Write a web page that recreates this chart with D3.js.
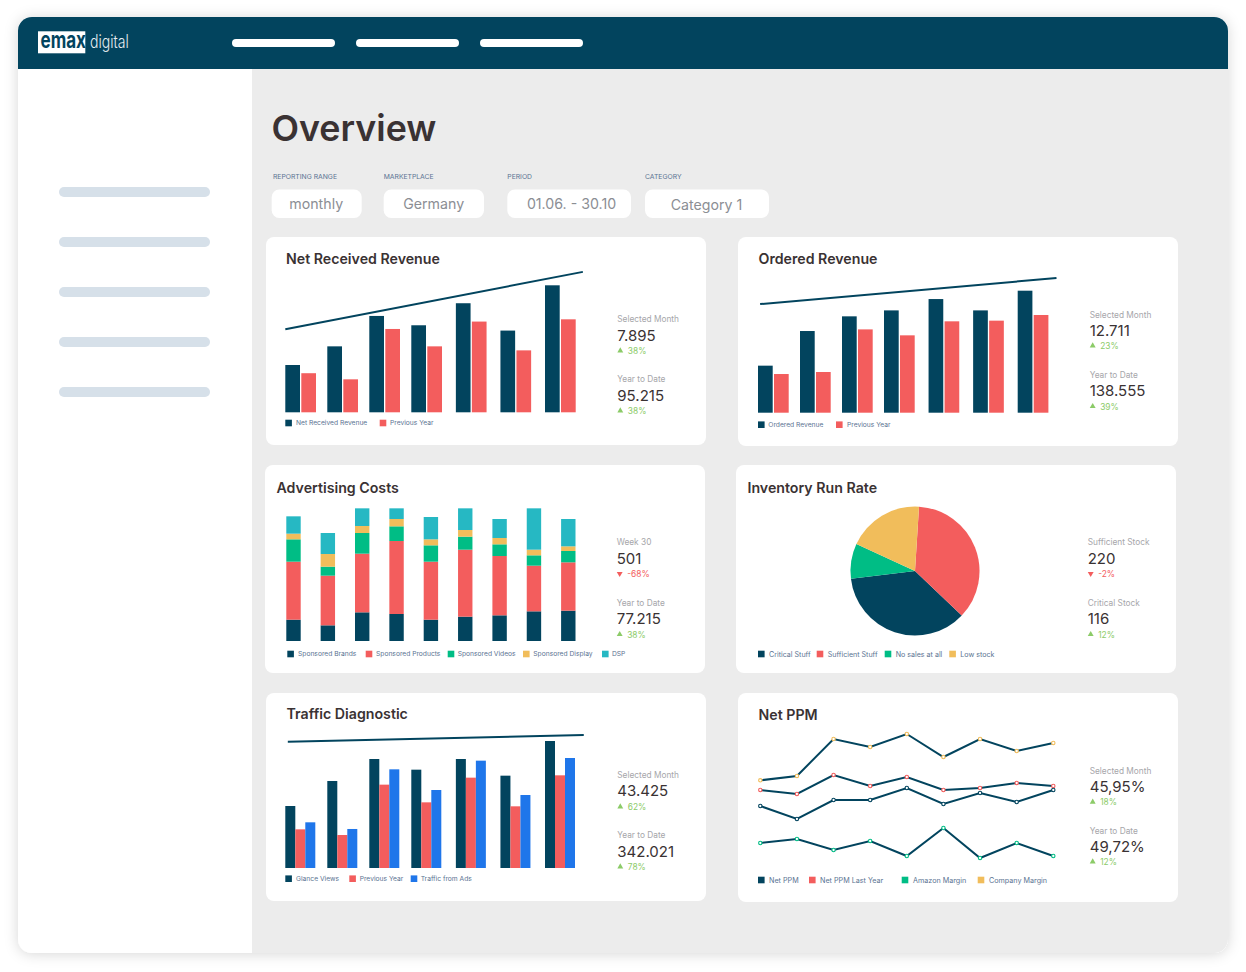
<!DOCTYPE html>
<html><head><meta charset="utf-8">
<script src="https://cdn.jsdelivr.net/npm/d3@7/dist/d3.min.js"></script>
<style>html,body{margin:0;padding:0;background:#fff}svg{display:block}text{font-family:Inter,"Noto Sans",sans-serif}</style>
</head><body><svg id="c" width="1246" height="972"></svg>
<script>
// ---- data ----
const months = [0,1,2,3,4,5,6];
const netRevenue = [2.94,4.10,5.99,5.41,6.78,5.08,7.895];
const netRevenuePrev = [2.43,2.05,5.18,4.10,5.64,3.85,5.78];
const netRevenueTrend = [5.16,8.73];
const orderedRevenue = [4.90,8.51,10.04,10.66,11.84,10.66,12.711];
const orderedRevenuePrev = [4.03,4.24,8.68,8.06,9.52,9.59,10.18];
const orderedTrend = [11.32,14.03];
const glanceViews = [21.2,29.75,37.27,33.62,37.27,31.57,43.425];
const glancePrev = [13.22,11.28,28.5,22.45,30.89,21.09,31.69];
const trafficAds = [15.62,13.34,33.74,26.67,36.7,24.96,37.61];
const trafficTrend = [43.2,45.48];
const weeks = ["W1","W2","W3","W4","W5","W6","W7","W8","W9"];
const sponsoredBrands = [64,47,86,81,64,73,77,89,91];
const sponsoredProducts = [174,149,176,219,174,201,178,137,145];
const sponsoredVideos = [67,27,62,44,49,39,35,31,34];
const sponsoredDisplay = [17,38,21,22,18,20,19,17,14];
const dsp = [52,63,53,32,67,65,57,124,82];
const pieLabels = ["Critical Stuff","Sufficient Stuff","No sales at all","Low stock"];
const pieValues = [36.0,36.1,8.75,19.15];
const pieOrder = ["Sufficient Stuff","Critical Stuff","No sales at all","Low stock"];
const netPpm = [41.15,37.25,42.95,42.95,46.55,41.75,45.05,42.35,45.95];
const netPpmLastYear = [45.95,44.75,50.45,47.15,49.85,45.95,46.55,48.05,47.15];
const amazonMargin = [30.05,31.25,27.95,30.65,26.15,34.55,25.55,30.05,26.15];
const companyMargin = [48.85,50.15,61.25,58.85,62.75,55.85,61.25,57.65,60.05];
const navCount = [0,1,2];
const sideCount = [0,1,2,3,4];

// ---- style ----
const C = {dark:"#02445e",red:"#f35d5d",green:"#00bd85",yellow:"#f1bd5b",teal:"#26b8c3",blue:"#1f76ea",
  up:"#8ccb68",down:"#f35d5d",ink:"#3a3233",label:"#a6a6aa",leg:"#5a7392",bg:"#ececec",side:"#d6e0e9",pill:"#8b8e94"};
const svg = d3.select("#c");
const defs = svg.append("defs");
const f = defs.append("filter").attr("id","sh").attr("x","-5%").attr("y","-5%").attr("width","110%").attr("height","110%");
f.append("feDropShadow").attr("dx",0).attr("dy",1).attr("stdDeviation",7).attr("flood-color","#000").attr("flood-opacity",.16);
defs.append("clipPath").attr("id","panel").append("rect").attr("x",18).attr("y",17).attr("width",1210).attr("height",936).attr("rx",14);

svg.append("rect").attr("x",18).attr("y",17).attr("width",1210).attr("height",936).attr("rx",14).attr("fill","#fff").attr("filter","url(#sh)");
const P = svg.append("g").attr("clip-path","url(#panel)");
P.append("rect").attr("x",252).attr("y",69).attr("width",976).attr("height",884).attr("fill",C.bg);
P.append("rect").attr("x",18).attr("y",17).attr("width",1210).attr("height",52).attr("fill",C.dark);

// logo
svg.append("rect").attr("x",38).attr("y",31.3).attr("width",47.3).attr("height",22).attr("fill","#fff");
svg.append("text").attr("transform","translate(40.5,48) scale(0.74,1)").attr("font-size",23).attr("font-weight",700).attr("fill",C.dark).text("emax");
svg.append("text").attr("transform","translate(90,48) scale(0.78,1)").attr("font-size",18).attr("font-weight",300).attr("fill","#e8eef1").text("digital");

const navX = d3.scaleLinear([0,1],[232,356]);
svg.selectAll(".nav").data(navCount).join("rect").attr("x",d=>navX(d)).attr("y",39).attr("width",103).attr("height",8).attr("rx",4).attr("fill","#fff");
const sideY = d3.scaleLinear([0,1],[187,237]);
svg.selectAll(".sd").data(sideCount).join("rect").attr("x",59).attr("y",d=>sideY(d)).attr("width",151).attr("height",10).attr("rx",5).attr("fill",C.side);

svg.append("text").attr("x",271.5).attr("y",140.7).attr("font-size",35.8).attr("font-weight",600).attr("fill",C.ink).text("Overview");

// filters
[["REPORTING RANGE","monthly",271.7,90,273,316.2,209],["MARKETPLACE","Germany",383.7,100.3,383.7,433.7,209],["PERIOD","01.06. - 30.10",507.3,123.7,507.3,571.5,209],["CATEGORY","Category 1",645,124,645,706.5,210]]
.forEach(([l,v,x,w,lx,tx,ty])=>{
  svg.append("text").attr("x",lx).attr("y",176.7).attr("dy",".36em").attr("font-size",6.8).attr("fill",C.leg).text(l);
  svg.append("rect").attr("x",x).attr("y",189.5).attr("width",w).attr("height",28.5).attr("rx",7.5).attr("fill","#fff");
  svg.append("text").attr("x",tx).attr("y",ty).attr("text-anchor","middle").attr("font-size",14.2).attr("fill",C.pill).text(v);
});

function card(x,y,w,h,title,tx,ty){
  svg.append("rect").attr("x",x).attr("y",y).attr("width",w).attr("height",h).attr("rx",8).attr("fill","#fff");
  svg.append("text").attr("x",tx).attr("y",ty).attr("font-size",14.2).attr("font-weight",600).attr("fill",C.ink).text(title);
}
function kpi(x,ys,l,v,dlt,up){
  const g=svg.append("g");
  g.append("text").attr("x",x).attr("y",ys[0]).attr("dy",".36em").attr("font-size",8.3).attr("fill",C.label).text(l);
  g.append("text").attr("x",x).attr("y",ys[1]).attr("dy",".36em").attr("font-size",15).attr("font-weight",400).attr("fill",C.ink).text(v);
  const col=up?C.up:C.down;
  g.append("path").attr("d",d3.symbol(d3.symbolTriangle,15)).attr("fill",col)
    .attr("transform",`translate(${x+3},${ys[2]-.3}) rotate(${up?0:180})`);
  g.append("text").attr("x",x+10.5).attr("y",ys[2]).attr("dy",".36em").attr("font-size",8.4).attr("fill",col).text(dlt);
}
function legend(items,cy,fs){
  items.forEach(([name,col,sx,tx])=>{
    svg.append("rect").attr("x",sx).attr("y",cy-3.3).attr("width",6.6).attr("height",6.6).attr("fill",col);
    svg.append("text").attr("x",tx).attr("y",cy).attr("dy",".36em").attr("font-size",fs).attr("fill",C.leg).text(name);
  });
}
// grouped bars with trend line
function bars(x0,base,yMax,hPx,series,barW,step,trend,trendX){
  const g=svg.append("g");
  const x=d3.scaleLinear([0,3,6],[x0,x0+126,x0+259.7]);
  const y=d3.scaleLinear([0,yMax],[base,base-hPx]);
  series.forEach((s,i)=>{
    g.selectAll(null).data(months).join("rect").attr("x",m=>x(m)+i*step).attr("y",m=>y(s.v[m]))
      .attr("width",barW).attr("height",m=>base-y(s.v[m])).attr("fill",s.c);
  });
  const line=d3.line().x(d=>x(d[0])).y(d=>y(d[1]));
  g.append("path").attr("d",line(d3.zip(trendX,trend))).attr("fill","none").attr("stroke",C.dark).attr("stroke-width",2);
}

// Net Received Revenue
card(266,237,440,208,"Net Received Revenue",286,264);
bars(285.3,412.3,7.895,127,[{v:netRevenue,c:C.dark},{v:netRevenuePrev,c:C.red}],14.7,16,netRevenueTrend,[0,6.85]);
legend([["Net Received Revenue",C.dark,285.3,296],["Previous Year",C.red,379.7,390]],423,6.7);
kpi(617.3,[319,335.7,351],"Selected Month","7.895","38%",true);
kpi(617.3,[379,395.7,411],"Year to Date","95.215","38%",true);

// Ordered Revenue
card(738,237,440,209,"Ordered Revenue",758.5,264);
bars(758,412.7,12.711,122,[{v:orderedRevenue,c:C.dark},{v:orderedRevenuePrev,c:C.red}],14.7,16,orderedTrend,[0.05,6.87]);
legend([["Ordered Revenue",C.dark,758,768.3],["Previous Year",C.red,836,847]],424.7,6.7);
kpi(1089.7,[315,331,346],"Selected Month","12.711","23%",true);
kpi(1089.7,[375,390.7,406.7],"Year to Date","138.555","39%",true);

// Advertising Costs
card(265,465,440,208,"Advertising Costs",276.5,493);
(function(){
  const rows=weeks.map((w,i)=>({w,a:sponsoredBrands[i],b:sponsoredProducts[i],c:sponsoredVideos[i],d:sponsoredDisplay[i],e:dsp[i]}));
  const st=d3.stack().keys(["a","b","c","d","e"])(rows);
  const col=[C.dark,C.red,C.green,C.yellow,C.teal];
  const x=d3.scalePoint(weeks,[286.3,286.3+34.35*8]);
  const y=d3.scaleLinear([0,398],[641,641-398/3]);
  const g=svg.append("g");
  st.forEach((s,i)=>g.selectAll(null).data(s).join("rect").attr("x",d=>x(d.data.w)).attr("width",14.4)
    .attr("y",d=>y(d[1])).attr("height",d=>y(d[0])-y(d[1])).attr("fill",col[i]));
})();
legend([["Sponsored Brands",C.dark,287.3,298],["Sponsored Products",C.red,365.7,376],["Sponsored Videos",C.green,447.7,457.7],["Sponsored Display",C.yellow,523,533.3],["DSP",C.teal,602,612]],654,6.7);
kpi(616.7,[541.7,558.7,574],"Week 30","501","-68%",false);
kpi(616.7,[603,618.7,634.7],"Year to Date","77.215","38%",true);

// Inventory Run Rate
card(736,465,440,208,"Inventory Run Rate",747.5,493);
(function(){
  const col=d3.scaleOrdinal(pieLabels,[C.dark,C.red,C.green,C.yellow]);
  const start=3.6*Math.PI/180;
  const pie=d3.pie().value(i=>pieValues[i]).sort((a,b)=>pieOrder.indexOf(pieLabels[a])-pieOrder.indexOf(pieLabels[b]))
    .startAngle(start).endAngle(start+2*Math.PI);
  const arc=d3.arc().innerRadius(0).outerRadius(64.5);
  svg.append("g").attr("transform","translate(915,571)").selectAll("path").data(pie(d3.range(pieLabels.length))).join("path")
    .attr("d",arc).attr("fill",d=>col(pieLabels[d.data]));
})();
legend([[pieLabels[0],C.dark,758,769],[pieLabels[1],C.red,816.7,827.7],[pieLabels[2],C.green,884.7,895.7],[pieLabels[3],C.yellow,949.3,960.3]],654,7.1);
kpi(1087.7,[541.7,558.7,574],"Sufficient Stock","220","-2%",false);
kpi(1087.7,[603,618.7,634.7],"Critical Stock","116","12%",true);

// Traffic Diagnostic
card(266,693,440,208,"Traffic Diagnostic",286.5,719);
bars(285.3,868,43.425,127,[{v:glanceViews,c:C.dark},{v:glancePrev,c:C.red},{v:trafficAds,c:C.blue}],10,10,trafficTrend,[0.06,6.87]);
legend([["Glance Views",C.dark,285.3,296],["Previous Year",C.red,349.3,359.7],["Traffic from Ads",C.blue,410.7,420.7]],878.7,6.7);
kpi(617.3,[775,790.7,807],"Selected Month","43.425","62%",true);
kpi(617.3,[835,851.7,867],"Year to Date","342.021","78%",true);

// Net PPM
card(738,693,440,209,"Net PPM",758.5,720);
(function(){
  const idx=d3.range(netPpm.length);
  const x=d3.scalePoint(idx,[760.3,1053.3]);
  const y=d3.scaleLinear([25.55,62.75],[858,734]);
  const line=d3.line().x((d,i)=>x(i)).y(d=>y(d));
  [[companyMargin,C.yellow],[netPpmLastYear,C.red],[netPpm,C.dark],[amazonMargin,C.green]].forEach(([v,c])=>{
    const g=svg.append("g");
    g.append("path").attr("d",line(v)).attr("fill","none").attr("stroke",C.dark).attr("stroke-width",2);
    g.selectAll("circle").data(v).join("circle").attr("cx",(d,i)=>x(i)).attr("cy",d=>y(d)).attr("r",1.7)
      .attr("fill","#fff").attr("stroke",c).attr("stroke-width",1.1);
  });
})();
legend([["Net PPM",C.dark,758,769],["Net PPM Last Year",C.red,809,820],["Amazon Margin",C.green,901.7,913],["Company Margin",C.yellow,977.7,989]],880,7.2);
kpi(1089.7,[771,787,802.3],"Selected Month","45,95%","18%",true);
kpi(1089.7,[831,846.7,862],"Year to Date","49,72%","12%",true);
</script></body></html>
